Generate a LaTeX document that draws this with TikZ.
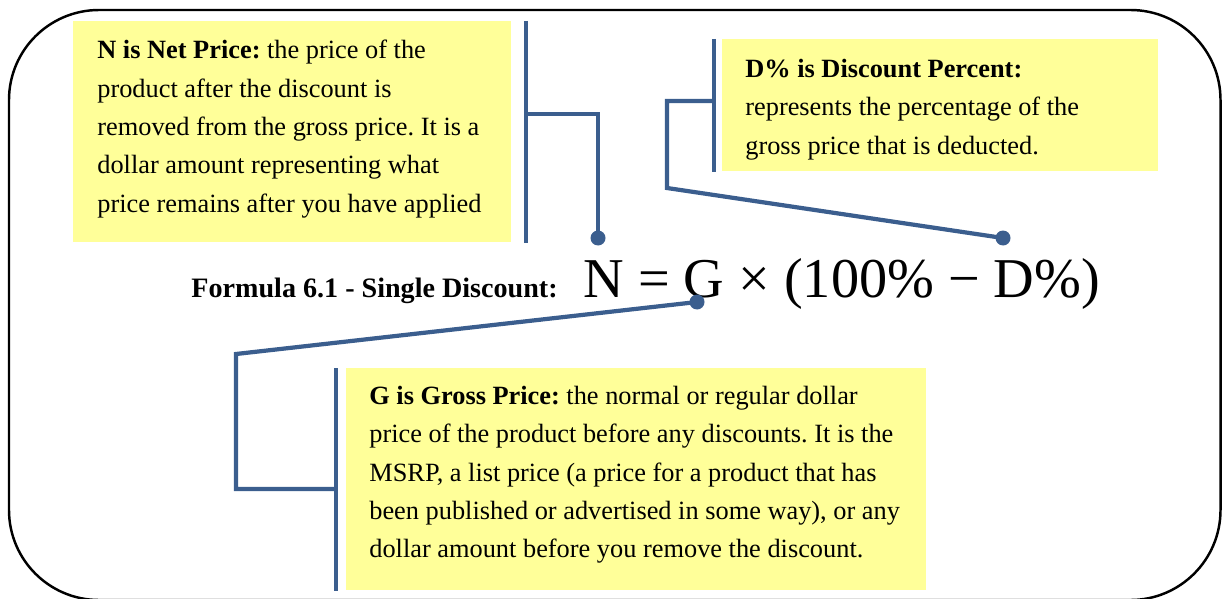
\documentclass[tikz,border=0pt]{standalone}
\usepackage{fontspec}
\setmainfont{Liberation Serif}
\usepackage{xcolor}
\usepackage{tikz}
\usetikzlibrary{positioning, calc}
\frenchspacing
\definecolor{notefill}{HTML}{FFFF99}
\definecolor{leaderblue}{HTML}{3B5E8E}
\tikzset{
  notebox/.style={fill=notefill, draw=none, anchor=north west, inner sep=0pt},
  notetext/.style={anchor=north west, align=left, inner sep=0pt,
                   font=\fontsize{15}{21.8}\selectfont, text=black},
  leader/.style={draw=leaderblue, line width=2.4pt, line join=miter},
  frame/.style={draw=black, line width=1.4pt, rounded corners=1.8cm},
}

\begin{document}
\begin{tikzpicture}[x=0.02cm, y=-0.02cm,
  formula/.style={font=\fontsize{32}{38}\selectfont, inner sep=0pt, anchor=base west},
  flabel/.style={font=\fontsize{16}{19}\selectfont\bfseries, inner sep=0pt, anchor=base east}]
  \useasboundingbox (0,0) rectangle (1222,598);
  \draw[frame] (9,10) rectangle (1220.5,600);
  % the three notes
  \node[notebox, minimum width=8.76cm, minimum height=4.42cm] (nnote) at (73,21) {};
  \node[notetext] (ntext) at ([xshift=0.48cm, yshift=-0.38cm]nnote.north west)
    {\textbf{N is Net Price:} the price of the\\ product after the discount is\\
     removed from the gross price. It is a\\ dollar amount representing what\\
     price remains after you have applied};
  \node[notebox, minimum width=8.72cm, minimum height=2.64cm] (dnote) at (722,39) {};
  \node[notetext] (dtext) at ([xshift=0.46cm, yshift=-0.4cm]dnote.north west)
    {\textbf{D\% is Discount Percent:}\\ represents the percentage of the\\
     gross price that is deducted.};
  \node[notebox, minimum width=11.6cm, minimum height=4.44cm] (gnote) at (346,368) {};
  \node[notetext] (gtext) at ([xshift=0.46cm, yshift=-0.36cm]gnote.north west)
    {\textbf{G is Gross Price:} the normal or regular dollar\\
     price of the product before any discounts. It is the\\
     MSRP, a list price (a price for a product that has\\
     been published or advertised in some way), or any\\
     dollar amount before you remove the discount.};
  % formula line
  \node[formula] (formula) at (583,297) {N = G × (100\% − D\%)};
  \node[flabel] (flabel) at ([xshift=-0.5cm]formula.base west) {Formula 6.1 - Single Discount:};
  \coordinate (ndot) at (598,238);
  \coordinate (ddot) at (1003,238);
  \coordinate (gdot) at (697,302);
  \coordinate (nknee) at (525,114);
  \coordinate (dknee) at (714,101);
  \coordinate (gknee) at (336,489);
  % bars and leaders
  \draw[leader] ([xshift=0.28cm]nnote.north east) -- ([xshift=0.28cm]nnote.south east);
  \draw[leader] ([xshift=-0.16cm]dnote.north west) -- ([xshift=-0.16cm]dnote.south west);
  \draw[leader] ([xshift=-0.2cm]gnote.north west) -- ([xshift=-0.2cm]gnote.south west);
  \draw[leader] (nknee) -| (ndot);
  \draw[leader] (dknee) -- (667,101) -- (667,188) -- (ddot);
  \draw[leader] (gknee) -- (236,489) -- (236,354) -- (gdot);
  \foreach \d in {ndot, ddot, gdot} \fill[leaderblue] (\d) circle (0.15cm);
\end{tikzpicture}
\end{document}
